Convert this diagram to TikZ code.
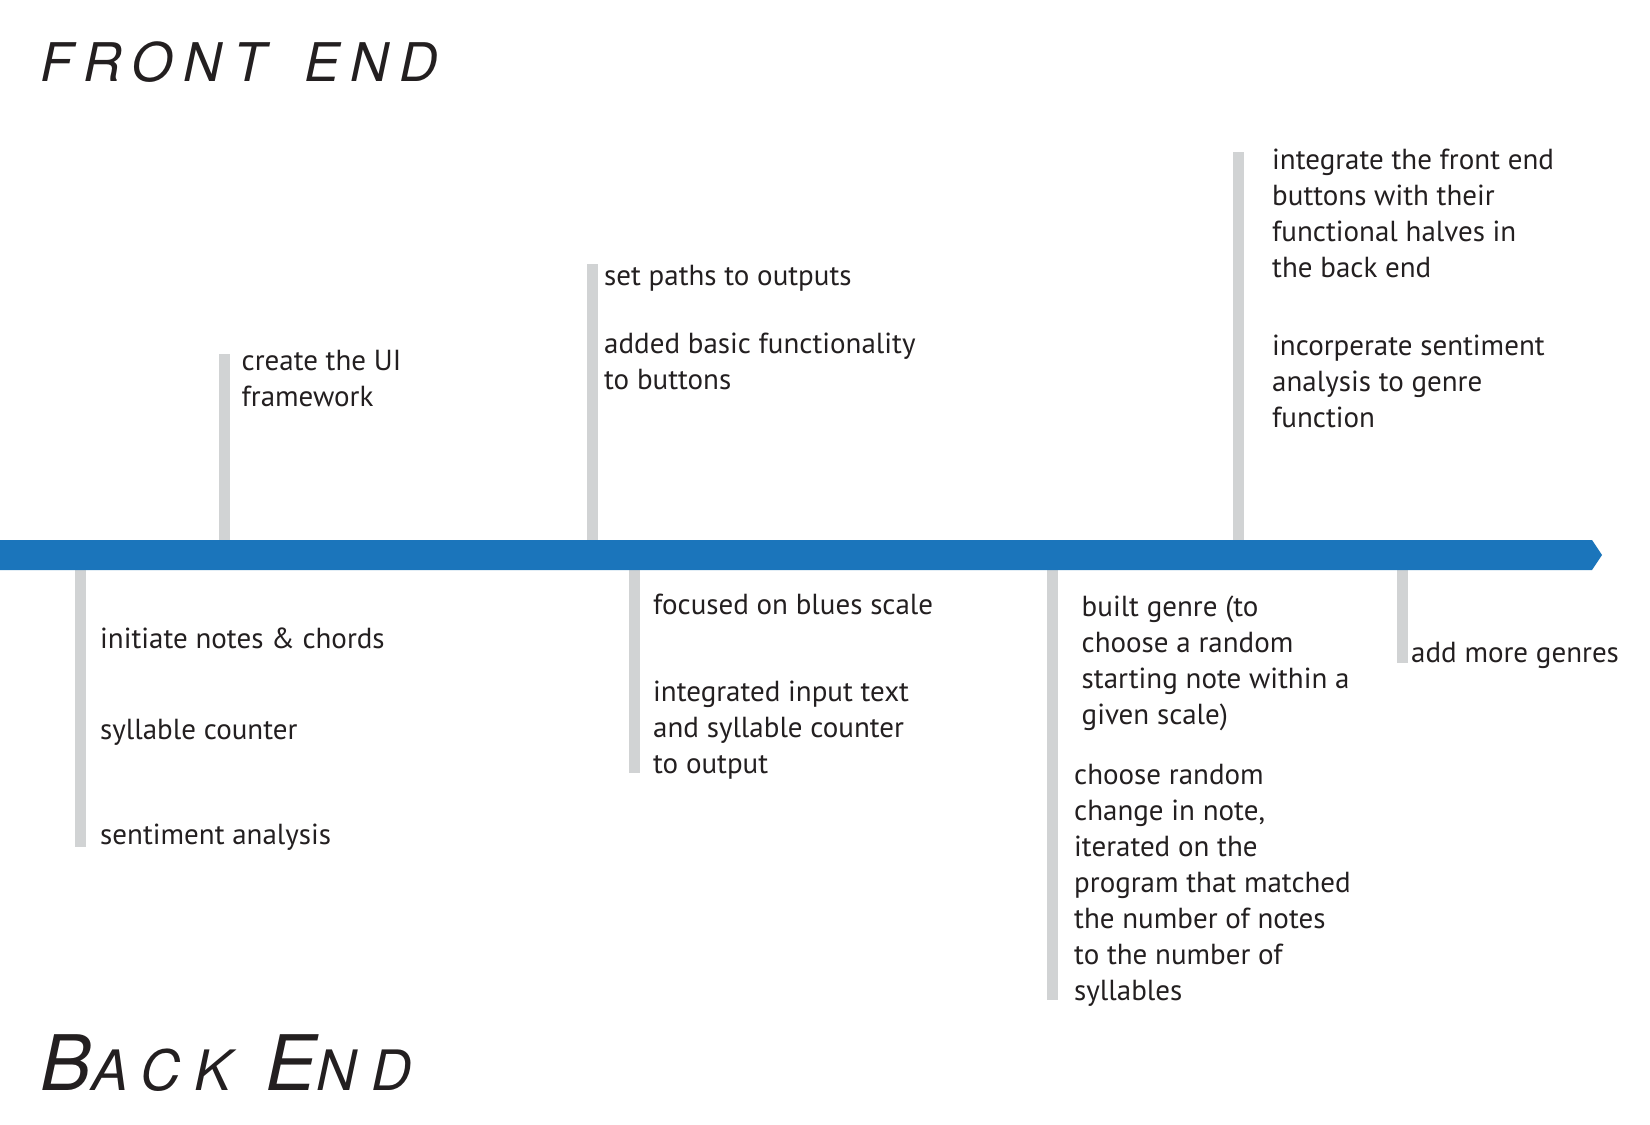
\documentclass[tikz,border=0pt]{standalone}
\usepackage{fontspec}
\setmainfont{PT Sans}
\newfontfamily\titlefont[LetterSpace=20]{TeX Gyre Heros}
\newfontfamily\titlefontwide[LetterSpace=26]{TeX Gyre Heros}
\definecolor{barblue}{HTML}{1B75BB}
\definecolor{tickgray}{HTML}{D1D3D4}
\definecolor{ink}{HTML}{231F20}
% left-aligned lines whose baseline is that of the first line
\newcommand\linestack[1]{\begin{tabular}[t]{@{}l@{}}#1\end{tabular}}
\begin{document}
\begin{tikzpicture}[x=1pt,y=-1pt,
  tick/.style={draw=tickgray, line width=11pt},
  note/.style={anchor=base west, inner sep=0pt, text=ink,
               font=\fontsize{29}{36}\selectfont},
  heading/.style={anchor=base west, inner sep=0pt, text=ink},
]
\useasboundingbox (0,0) rectangle (1650,1125);

% headings
\node[heading, font=\titlefont\itshape\fontsize{53.3}{60}\selectfont] (front) at (40,81)
  {FRONT\hspace{13pt} END};
\node[heading] (back) at (40,1090)
  {\titlefont\itshape\fontsize{76.6}{80}\selectfont B%
   \titlefontwide\itshape\fontsize{55.7}{60}\selectfont ACK\hspace{34pt}%
   \titlefont\itshape\fontsize{76.6}{80}\selectfont E%
   \titlefontwide\itshape\fontsize{55.7}{60}\selectfont ND};

% tick end points
\coordinate (t1a) at (224,354);  \coordinate (t1b) at (224,545);
\coordinate (t2a) at (592,264);  \coordinate (t2b) at (592,545);
\coordinate (t3a) at (1238,152); \coordinate (t3b) at (1238,545);
\coordinate (b1a) at (80.5,565); \coordinate (b1b) at (80.5,847);
\coordinate (b2a) at (634.5,565);\coordinate (b2b) at (634.5,773);
\coordinate (b3a) at (1052.5,565);\coordinate (b3b) at (1052.5,1000);
\coordinate (b4a) at (1402,565); \coordinate (b4b) at (1402,663);

\foreach \p in {t1,t2,t3,b1,b2,b3,b4} \draw[tick] (\p a) -- (\p b);

% timeline arrow
\coordinate (s1) at (-1,540);
\coordinate (h1) at (1592,540);
\coordinate (tip) at (1602,555);
\coordinate (h2) at (1592,570);
\coordinate (s2) at (-1,570);
\fill[barblue] (s1) -- (h1) -- (tip) -- (h2) -- (s2) -- cycle;

% front end milestones
\node[note] (ui) at (241.5,370) {\linestack{create the UI\\framework}};
\node[note] (paths) at (604,285) {set paths to outputs};
\node[note] (basic) at (604,353) {\linestack{added basic functionality\\to buttons}};
\node[note] (integ) at (1272,169) {\linestack{integrate the front end\\buttons with their\\functional halves in\\the back end}};
\node[note] (senti) at (1272,355) {\linestack{incorperate sentiment\\analysis to genre\\function}};

% back end milestones
\node[note] (notes) at (100,648) {initiate notes \& chords};
\node[note] (syll) at (100,739) {syllable counter};
\node[note] (sent) at (100,844) {sentiment analysis};
\node[note] (blues) at (653,614) {focused on blues scale};
\node[note] (input) at (653,701) {\linestack{integrated input text\\and syllable counter\\to output}};
\node[note] (genre) at (1081.5,616) {\linestack{built genre (to\\choose a random\\starting note within a\\given scale)}};
\node[note] (change) at (1074,784.5) {\linestack{choose random\\change in note,\\iterated on the\\program that matched\\the number of notes\\to the number of\\syllables}};
\node[note] (more) at (1411,662) {add more genres};
\end{tikzpicture}
\end{document}
